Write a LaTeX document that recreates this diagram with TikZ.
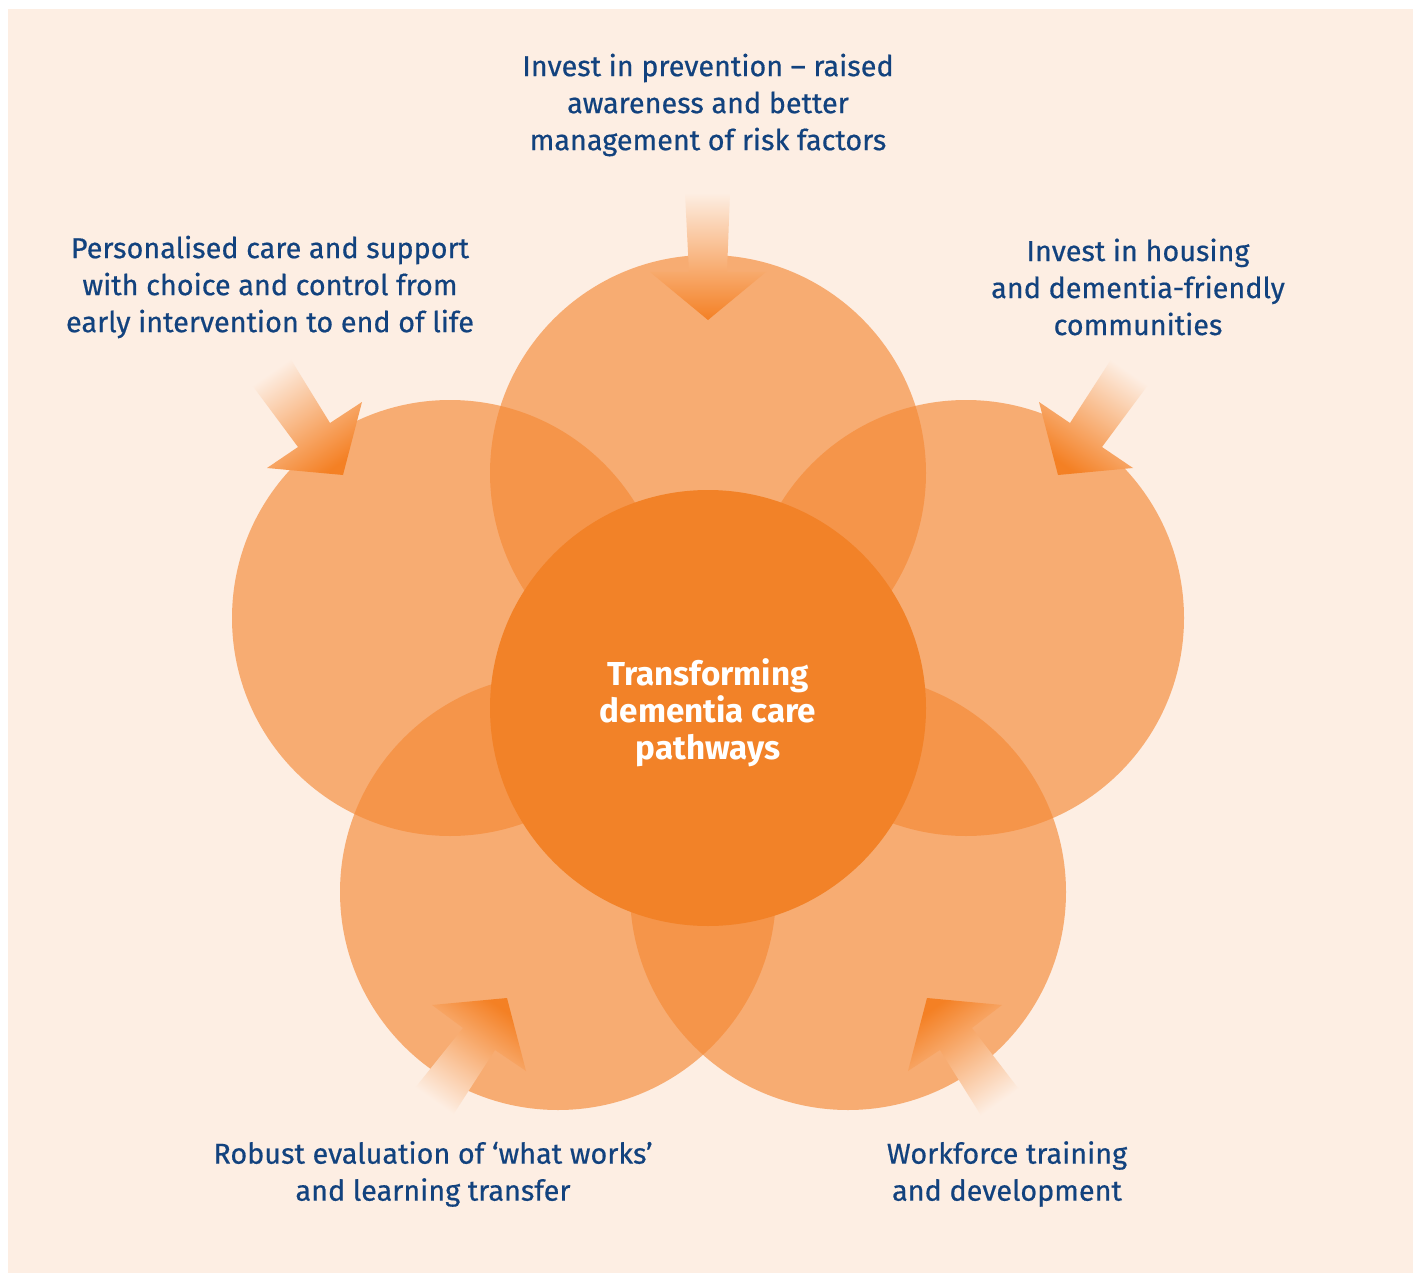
\documentclass[tikz,border=0pt]{standalone}
\usepackage{fontspec}
\setmainfont{Fira Sans}
\newfontfamily\lblfont{Fira Sans}[FakeBold=0.5]
\definecolor{bgpeach}{RGB}{253,238,227}
\definecolor{petal}{RGB}{245,137,54}
\definecolor{corecol}{RGB}{242,130,40}
\definecolor{arrowcol}{RGB}{244,128,36}
\definecolor{txtblue}{RGB}{18,66,126}
\colorlet{arrowmid}{arrowcol!62!bgpeach}
\tikzset{
  petalcirc/.style={fill=petal, fill opacity=0.65, draw=none},
  corecirc/.style={fill=corecol, draw=none},
  labeltext/.style={text=txtblue, align=center, font=\lblfont\fontsize{14.4}{18.5}\selectfont, inner sep=0pt},
  coretext/.style={text=white, align=center, font=\fontsize{16.6}{18.6}\selectfont\bfseries, inner sep=0pt},
}
\begin{document}
\begin{tikzpicture}[x=0.5pt,y=-0.5pt]
\useasboundingbox (0,0) rectangle (1413,1273);
\fill[white] (0,0) rectangle (1413,1273);
\fill[bgpeach] (8,9) rectangle (1413,1273);
% petals
\fill[petalcirc] (708,473) circle[radius=218];
\fill[petalcirc] (450,618) circle[radius=218];
\fill[petalcirc] (966,618) circle[radius=218];
\fill[petalcirc] (558,892) circle[radius=218];
\fill[petalcirc] (848,892) circle[radius=218];
% core
\fill[corecirc] (708,708) circle[radius=218];
\node[coretext] (core) at (708,713) {Transforming\\dementia care\\pathways};
% arrows
\shade[top color=bgpeach, middle color=arrowmid, bottom color=arrowcol] (685,193) -- (689,272) -- (650,272) -- (708,320) -- (766,272) -- (727,272) -- (730,193) -- cycle;
\shade[top color=bgpeach, middle color=arrowmid, bottom color=arrowcol, shading angle=34.7] (252,385) -- (298,447) -- (267,468) -- (343,475) -- (362,402) -- (330,423) -- (290,358) -- cycle;
\shade[top color=bgpeach, middle color=arrowmid, bottom color=arrowcol, shading angle=-34.7] (1148,385) -- (1102,447) -- (1133,468) -- (1058,475) -- (1039,402) -- (1070,423) -- (1112,358) -- cycle;
\shade[top color=arrowcol, middle color=arrowmid, bottom color=bgpeach, shading angle=-35.3] (415,1088) -- (463,1028) -- (432,1005) -- (507,998) -- (526,1071) -- (495,1050) -- (453,1115) -- cycle;
\shade[top color=arrowcol, middle color=arrowmid, bottom color=bgpeach, shading angle=35] (1018,1088) -- (972,1028) -- (1002,1005) -- (927,998) -- (908,1071) -- (940,1050) -- (982,1117) -- cycle;
% labels
\node[labeltext] (prev) at (708,105) {Invest in prevention – raised\\awareness and better\\management of risk factors};
\node[labeltext] (pers) at (270,287) {Personalised care and support\\with choice and control from\\early intervention to end of life};
\node[labeltext] (hous) at (1138,287) {Invest in housing\\and dementia-friendly\\communities};
\node[labeltext] (eval) at (433,1174) {Robust evaluation of ‘what works’\\and learning transfer};
\node[labeltext] (work) at (1007,1174) {Workforce training\\and development};
\end{tikzpicture}
\end{document}
